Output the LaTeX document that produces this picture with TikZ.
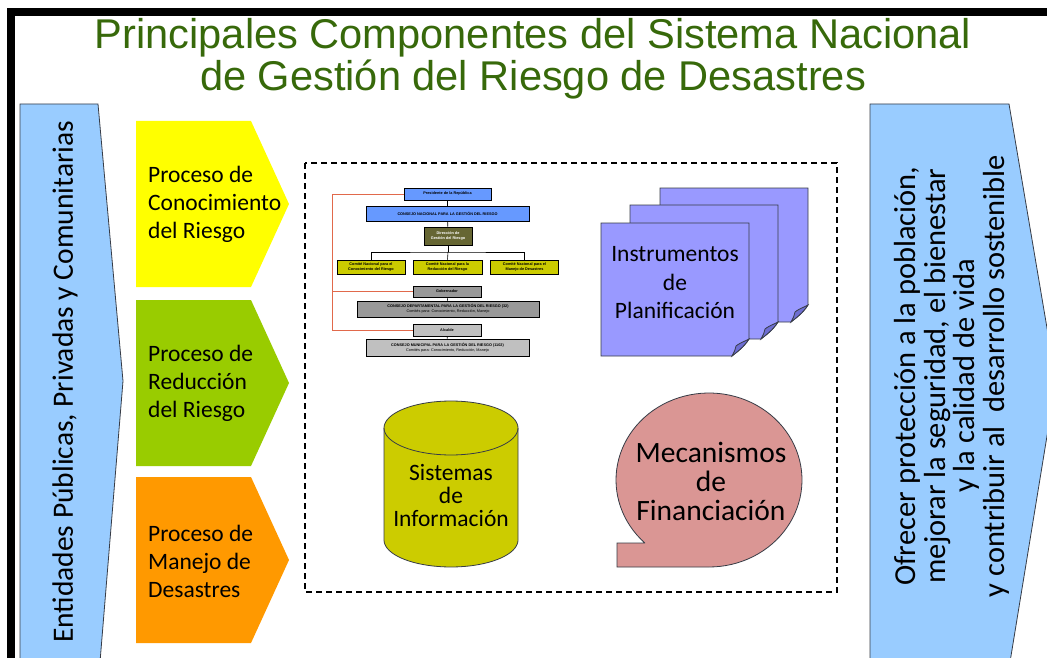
\documentclass[tikz,border=0pt]{standalone}
\usepackage{fontspec}
\setmainfont{Carlito}
\newfontfamily\titlefont{Liberation Sans}
\newfontfamily\orgfont{Liberation Sans}
\definecolor{titlegreen}{RGB}{55,105,10}
\definecolor{sideblue}{RGB}{153,204,255}
\definecolor{procyellow}{RGB}{255,255,0}
\definecolor{procgreen}{RGB}{153,204,0}
\definecolor{procorange}{RGB}{255,153,0}
\definecolor{cylfill}{RGB}{204,204,0}
\definecolor{bubblefill}{RGB}{218,150,148}
\definecolor{instrfill}{RGB}{153,153,255}
\definecolor{instrdark}{RGB}{110,110,210}
\definecolor{orgblue}{RGB}{102,153,255}
\definecolor{orgolive}{RGB}{102,102,51}
\definecolor{orgyellow}{RGB}{204,204,0}
\definecolor{orggray}{RGB}{153,153,153}
\definecolor{orglight}{RGB}{192,192,192}
\definecolor{orgred}{RGB}{225,105,75}
\definecolor{outlinec}{RGB}{55,60,70}
\tikzset{
  sideshape/.style={fill=sideblue, draw=outlinec, line width=0.8pt},
  proctext/.style={font=\fontsize{23.5}{28}\selectfont, align=left, anchor=west, inner sep=0pt},
  bigtext/.style={font=\fontsize{23.5}{23}\selectfont, align=center, inner sep=0pt},
  orgbox/.style={draw=black, line width=0.6pt, inner sep=0pt, align=center,
    font=\orgfont\bfseries\fontsize{3.8}{4.6}\selectfont},
  orgline/.style={draw=black, line width=0.6pt},
  redline/.style={draw=orgred, line width=0.8pt},
  shapeline/.style={draw=outlinec, line width=0.8pt}
}
\newcommand{\instrpage}[4]{% x0 y0 x1 y1
  \path[fill=instrfill, shapeline] (#1,#2) -- (#3,#2) -- (#3,#4-17)
     .. controls (#3-5,#4-9) and (#3-12,#4-4) .. (#3-17,#4) -- (#1,#4) -- cycle;
  \path[fill=instrdark, shapeline] (#3,#4-17) .. controls (#3-6,#4-14) and (#3-11,#4-12) .. (#3-13,#4-10)
     .. controls (#3-14,#4-6) and (#3-15,#4-3) .. (#3-17,#4)
     .. controls (#3-12,#4-4) and (#3-5,#4-9) .. cycle;
}
\begin{document}
\begin{tikzpicture}[x=1pt,y=-1pt]
\useasboundingbox (0,0) rectangle (1047,658);
\clip (0,0) rectangle (1047,658);
\fill[white] (0,0) rectangle (1047,658);
% frame
\fill[black] (7,8) rectangle (1047,16);
\fill[black] (7,8) rectangle (15,658);
% title
\node[font=\titlefont\fontsize{41.6}{42}\selectfont, text=titlegreen, align=center, inner sep=0pt] (title) at (533,59)
  {Principales Componentes del Sistema Nacional\\de Gestión del Riesgo de Desastres};
% side shapes
\path[sideshape] (20,104) -- (98,104) -- (123,381) -- (100,662) -- (20,662) -- cycle;
\node[rotate=90, font=\fontsize{29.5}{30}\selectfont, inner sep=0pt] (entidades) at (65,382)
  {Entidades Públicas, Privadas y Comunitarias};
\path[sideshape] (870,104) -- (1009,104) -- (1056,381) -- (1010,662) -- (870,662) -- cycle;
\node[rotate=90, font=\fontsize{30.5}{29.5}\selectfont, align=center, inner sep=0pt] (objetivo) at (952,376)
  {Ofrecer protección a la población,\\mejorar la seguridad, el bienestar\\y la calidad de vida\\y contribuir al\ \ desarrollo sostenible};
% process chevrons
\fill[procyellow] (136,121) -- (251,121) -- (289,204) -- (251,287) -- (136,287) -- cycle;
\node[proctext] (conoc) at (148,204) {Proceso de\\Conocimiento\\del Riesgo};
\fill[procgreen] (136,300) -- (251,300) -- (289,383) -- (251,466) -- (136,466) -- cycle;
\node[proctext] (reduc) at (148,383) {Proceso de\\Reducción\\del Riesgo};
\fill[procorange] (136,477) -- (251,477) -- (289,560) -- (251,643) -- (136,643) -- cycle;
\node[proctext] (manejo) at (148,561) {Proceso de\\Manejo de\\Desastres};
% dashed frame
\draw[black, line width=1.2pt, dash pattern=on 6pt off 4pt] (305,163) rectangle (837,592);
% org chart
\node[orgbox, fill=orgblue, minimum width=87pt, minimum height=12pt] (pres) at (447.5,194) {Presidente de la República};
\node[orgbox, fill=orgblue, minimum width=163pt, minimum height=15pt] (cnac) at (447.5,213.5) {CONSEJO NACIONAL PARA LA GESTIÓN DEL RIESGO};
\node[orgbox, fill=orgolive, text=white, minimum width=48pt, minimum height=18pt] (dir) at (448,236) {Dirección de\\Gestión del Riesgo};
\node[orgbox, fill=orgyellow, minimum width=68pt, minimum height=14pt] (c1) at (371,267) {Comité Nacional para el\\Conocimiento del Riesgo};
\node[orgbox, fill=orgyellow, minimum width=69pt, minimum height=14pt] (c2) at (447.5,267) {Comité Nacional para la\\Reducción del Riesgo};
\node[orgbox, fill=orgyellow, minimum width=68pt, minimum height=14pt] (c3) at (524.5,267) {Comité Nacional para el\\Manejo de Desastres};
\node[orgbox, fill=orggray, minimum width=68pt, minimum height=11pt] (gob) at (447,291.5) {Gobernador};
\node[orgbox, fill=orggray, minimum width=182pt, minimum height=16pt] (cdep) at (448,309) {CONSEJO DEPARTAMENTAL PARA LA GESTIÓN DEL RIESGO (32)\\\mdseries Comités para: Conocimiento, Reducción, Manejo};
\node[orgbox, fill=orglight, minimum width=68pt, minimum height=12pt] (alc) at (447,330) {Alcalde};
\node[orgbox, fill=orglight, minimum width=163pt, minimum height=17pt] (cmun) at (447.5,347.5) {CONSEJO MUNICIPAL PARA LA GESTIÓN DEL RIESGO (1102)\\\mdseries Comités para: Conocimiento, Reducción, Manejo};
\coordinate (bar) at (448,252);
\draw[orgline] (pres) -- (cnac);
\draw[orgline] (cnac) -- (dir);
\draw[orgline] (dir) -- (bar);
\draw[orgline] (c1.north) |- (bar) -| (c3.north);
\draw[orgline] (bar) -- (c2.north);
\draw[orgline] (gob) -- (cdep);
\draw[orgline] (alc) -- (cmun);
\coordinate (redtop) at (332,194);
\draw[redline] (pres.west) -- (redtop) |- (alc.west);
\draw[redline] (redtop |- gob.west) -- (gob.west);
% instrumentos de planificacion
\instrpage{660}{188}{808}{322}
\instrpage{630}{205}{778}{339}
\instrpage{601}{223}{749}{356}
\node[bigtext, font=\fontsize{23.5}{28.5}\selectfont] (instr) at (675,283) {Instrumentos\\de\\Planificación};
% cylinder
\path[fill=cylfill, shapeline] (384,428) -- (384,540)
  -- plot[domain=180:0, samples=40] ({451+67*cos(\x)},{540+27*sin(\x)})
  -- (518,428)
  -- plot[domain=0:-180, samples=40] ({451+67*cos(\x)},{428+27*sin(\x)}) -- cycle;
\draw[shapeline] plot[domain=180:0, samples=40] ({451+67*cos(\x)},{428+27*sin(\x)});
\node[bigtext] (sist) at (451,495) {Sistemas\\de\\Información};
% speech bubble
\path[fill=bubblefill, shapeline] (645,543)
  -- plot[domain=133.6:450, samples=90] ({709+93*cos(\x)},{480+87*sin(\x)})
  -- (617,567) -- (617,543) -- cycle;
\node[bigtext, font=\fontsize{29.5}{29}\selectfont] (mec) at (711,481) {Mecanismos\\de\\Financiación};
\end{tikzpicture}
\end{document}
